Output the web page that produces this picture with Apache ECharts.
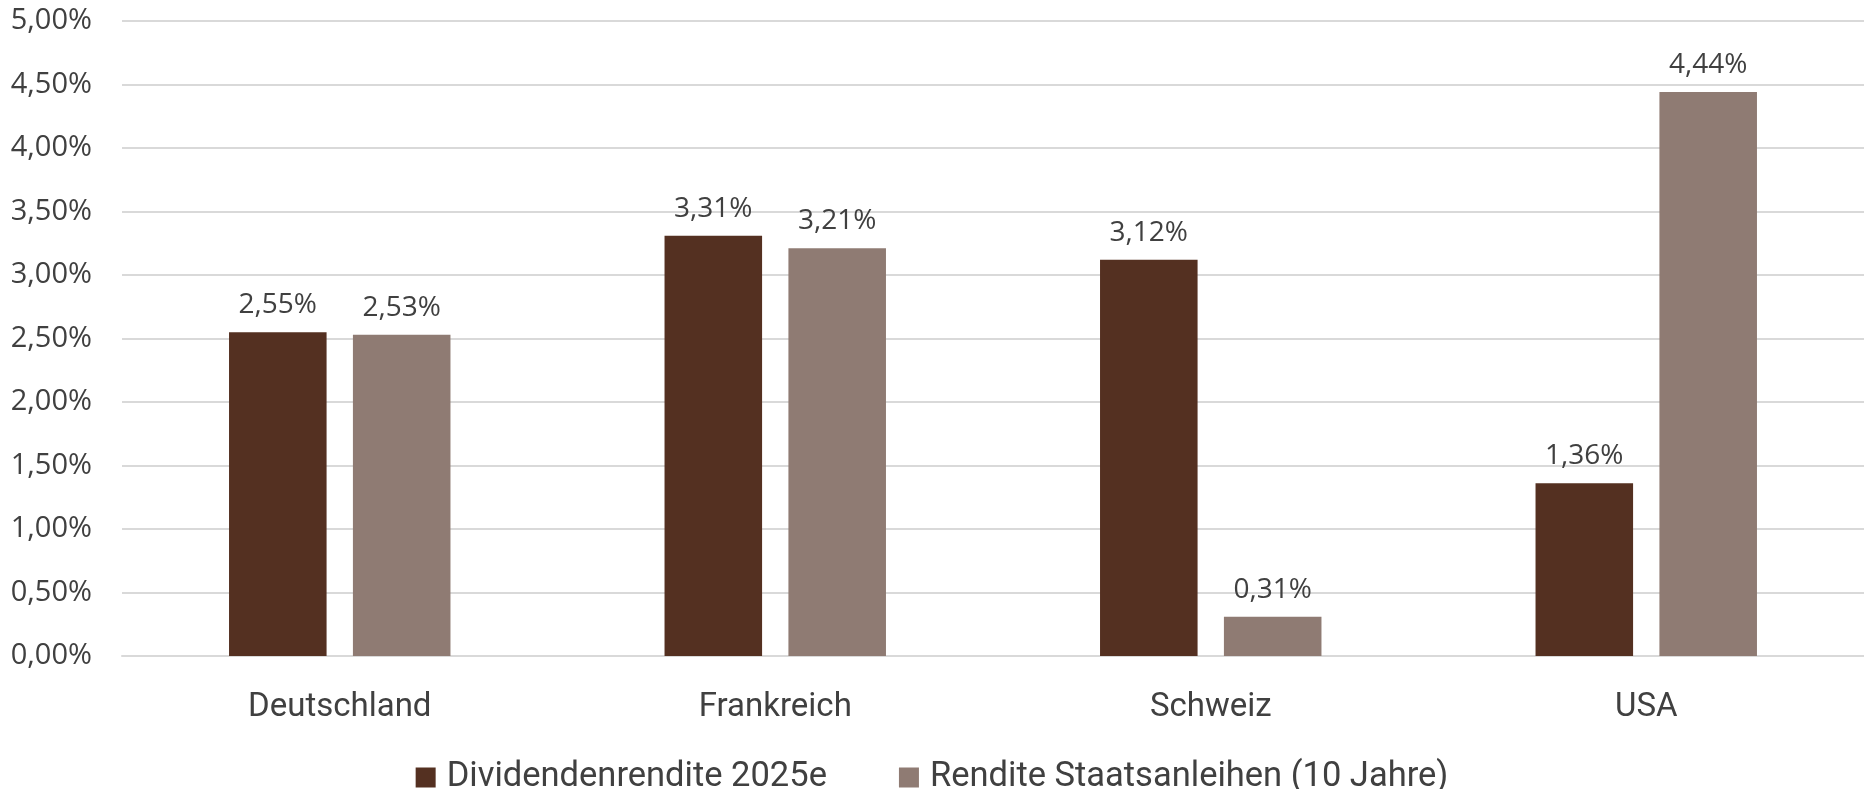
<!DOCTYPE html>
<html>
<head>
<meta charset="utf-8">
<script src="https://cdn.jsdelivr.net/npm/echarts@6/dist/echarts.min.js"></script>
<style>
  html, body { margin: 0; padding: 0; background: #fff; }
  #main { width: 1864px; height: 789px; }
</style>
</head>
<body>
<div id="main"></div>
<script>
// Daten
const categories = ['Deutschland', 'Frankreich', 'Schweiz', 'USA']
const dividendenrendite = [2.55, 3.31, 3.12, 1.36]
const staatsanleihen = [2.53, 3.21, 0.31, 4.44]
const seriesNames = ['Dividendenrendite 2025e', 'Rendite Staatsanleihen (10 Jahre)']
const yMin = 0
const yMax = 5
const yStep = 0.5

const fmt = (v) => v.toFixed(2).replace('.', ',') + '%'

const chart = echarts.init(document.getElementById('main'))

const labelStyle = {
  show: true,
  position: 'top',
  distance: 13,
  fontFamily: 'Open Sans',
  fontSize: 28,
  color: '#404040',
  formatter: (p) => fmt(p.value)
}

const option = {
  animation: false,
  grid: {
    left: 122,
    right: 0,
    top: 21,
    bottom: 133
  },
  legend: {
    data: seriesNames,
    top: 755,
    left: 'center',
    itemWidth: 20,
    itemHeight: 20,
    itemGap: 72,
    icon: 'rect',
    textStyle: {
      fontFamily: 'Roboto',
      fontSize: 34.5,
      color: '#404040',
      padding: [0, 0, 0, 6]
    }
  },
  xAxis: {
    type: 'category',
    data: categories,
    axisLine: { show: true, lineStyle: { color: '#d9d9d9', width: 2 } },
    axisTick: { show: false },
    axisLabel: {
      margin: 35,
      fontFamily: 'Roboto',
      fontSize: 33,
      color: '#404040'
    }
  },
  yAxis: {
    type: 'value',
    min: yMin,
    max: yMax,
    interval: yStep,
    axisLine: { show: false },
    axisTick: { show: false },
    splitLine: { lineStyle: { color: '#d9d9d9', width: 2 } },
    axisLabel: {
      margin: 30,
      fontFamily: 'Open Sans',
      fontSize: 29,
      color: '#404040',
      formatter: fmt
    }
  },
  series: [
    {
      name: seriesNames[0],
      type: 'bar',
      data: dividendenrendite,
      barWidth: '22.4%',
      barGap: '27%',
      itemStyle: { color: '#543021' },
      label: labelStyle
    },
    {
      name: seriesNames[1],
      type: 'bar',
      data: staatsanleihen,
      barWidth: '22.4%',
      barGap: '27%',
      itemStyle: { color: '#8f7b73' },
      label: labelStyle
    }
  ]
}

chart.setOption(option)
</script>
</body>
</html>
